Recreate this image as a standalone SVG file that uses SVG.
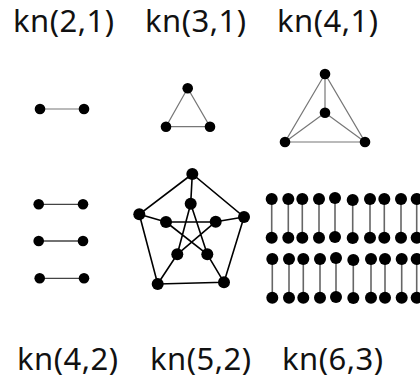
<svg xmlns="http://www.w3.org/2000/svg" width="420" height="379" viewBox="0 0 420 379">
<style>
text{font-family:"Noto Sans","Open Sans",sans-serif;font-size:31px;fill:#111;letter-spacing:0.5px}
.n{fill:#000}
.e1{stroke:#777;stroke-width:1.2;fill:none}
.e2{stroke:#444;stroke-width:1.3;fill:none}
.e3{stroke:#000;stroke-width:1.6;fill:none}
.e4{stroke:#666;stroke-width:1.6;fill:none}
</style>
<rect width="420" height="379" fill="#fff"/>
<g id="labels">
<text x="13" y="32">kn(2,1)</text>
<text x="145" y="32">kn(3,1)</text>
<text x="277" y="32">kn(4,1)</text>
<text x="17" y="370">kn(4,2)</text>
<text x="150" y="370">kn(5,2)</text>
<text x="282" y="370">kn(6,3)</text>
</g>
<g id="connectors">
<line class="e1" x1="40" y1="109" x2="84" y2="109"/>
<path class="e1" d="M187.7,88.3 L166,126.7 L210,126.7 Z"/>
<path class="e1" d="M325,74 L285,142 L365,142 Z M325,74 L325,112.7 M285,142 L325,112.7 L365,142"/>
<path class="e2" d="M38.7,204.3 H83 M38.7,241 H83 M39.7,278.3 H84"/>
<path class="e3" d="M192.3,174 L139.3,214.3 L157.7,284 L224,282.3 L244,217 Z M192.3,174 L190.7,203.7 M139.3,214.3 L166,222 M244,217 L215.7,221.7 M157.7,284 L177.3,254.3 M224,282.3 L207.3,254.3 M190.7,203.7 L177.3,254.3 M190.7,203.7 L207.3,254.3 M166,222 L215.7,221.7 M166,222 L207.3,254.3 M215.7,221.7 L177.3,254.3"/>
<path class="e4" d="M271.7,199 V237.7 M288.3,199 V237.7 M302.3,199 V237.7 M319,199 V237.7 M335,198 V237.7 M352.7,200 V237.7 M370,199 V237.7 M384.3,199 V237.7 M401,199 V237.7 M416.7,199 V237.7"/>
<path class="e4" d="M272.3,259 V297.7 M289,259 V297.7 M303.3,259 V297.7 M320,259 V297.7 M336,258 V297.7 M353.3,260 V297.7 M371,259 V297.7 M385,259 V297.7 M401.7,259 V297.7 M416.7,259 V297.7"/>
</g>
<g id="kn21" class="n">
<circle cx="40" cy="109" r="5.3"/><circle cx="84" cy="109" r="5.3"/>
</g>
<g id="kn31" class="n">
<circle cx="187.7" cy="88.3" r="5.3"/><circle cx="166" cy="126.7" r="5.3"/><circle cx="210" cy="126.7" r="5.3"/>
</g>
<g id="kn41" class="n">
<circle cx="325" cy="74" r="5.3"/><circle cx="325" cy="112.7" r="5.3"/><circle cx="285" cy="142" r="5.3"/><circle cx="365" cy="142" r="5.3"/>
</g>
<g id="kn42" class="n">
<circle cx="38.7" cy="204.3" r="5.3"/><circle cx="83" cy="204.3" r="5.3"/>
<circle cx="38.7" cy="241" r="5.3"/><circle cx="83" cy="241" r="5.3"/>
<circle cx="39.7" cy="278.3" r="5.3"/><circle cx="84" cy="278.3" r="5.3"/>
</g>
<g id="kn52" class="n">
<circle cx="192.3" cy="174" r="6"/><circle cx="139.3" cy="214.3" r="6"/><circle cx="244" cy="217" r="6"/><circle cx="157.7" cy="284" r="6"/><circle cx="224" cy="282.3" r="6"/>
<circle cx="190.7" cy="203.7" r="6"/><circle cx="166" cy="222" r="6"/><circle cx="215.7" cy="221.7" r="6"/><circle cx="177.3" cy="254.3" r="6"/><circle cx="207.3" cy="254.3" r="6"/>
</g>
<g id="kn63" class="n">
<circle cx="271.7" cy="199" r="6"/><circle cx="288.3" cy="199" r="6"/><circle cx="302.3" cy="199" r="6"/><circle cx="319" cy="199" r="6"/><circle cx="335" cy="198" r="6"/><circle cx="352.7" cy="200" r="6"/><circle cx="370" cy="199" r="6"/><circle cx="384.3" cy="199" r="6"/><circle cx="401" cy="199" r="6"/><circle cx="416.7" cy="199" r="6"/>
<circle cx="271.7" cy="237.7" r="6"/><circle cx="288.3" cy="237.7" r="6"/><circle cx="302.3" cy="237.7" r="6"/><circle cx="319" cy="237.7" r="6"/><circle cx="335" cy="237" r="6"/><circle cx="352.7" cy="238" r="6"/><circle cx="370" cy="237.7" r="6"/><circle cx="384.3" cy="237.7" r="6"/><circle cx="401" cy="237.7" r="6"/><circle cx="416.7" cy="237.7" r="6"/>
<circle cx="272.3" cy="259" r="6"/><circle cx="289" cy="259" r="6"/><circle cx="303.3" cy="259" r="6"/><circle cx="320" cy="259" r="6"/><circle cx="336" cy="258" r="6"/><circle cx="353.3" cy="260" r="6"/><circle cx="371" cy="259" r="6"/><circle cx="385" cy="259" r="6"/><circle cx="401.7" cy="259" r="6"/><circle cx="416.7" cy="259" r="6"/>
<circle cx="272.3" cy="297.7" r="6"/><circle cx="289" cy="297.7" r="6"/><circle cx="303.3" cy="297.7" r="6"/><circle cx="320" cy="297.7" r="6"/><circle cx="336" cy="297" r="6"/><circle cx="353.3" cy="298" r="6"/><circle cx="371" cy="297.7" r="6"/><circle cx="385" cy="297.7" r="6"/><circle cx="401.7" cy="297.7" r="6"/><circle cx="416.7" cy="297.7" r="6"/>
</g>
</svg>
